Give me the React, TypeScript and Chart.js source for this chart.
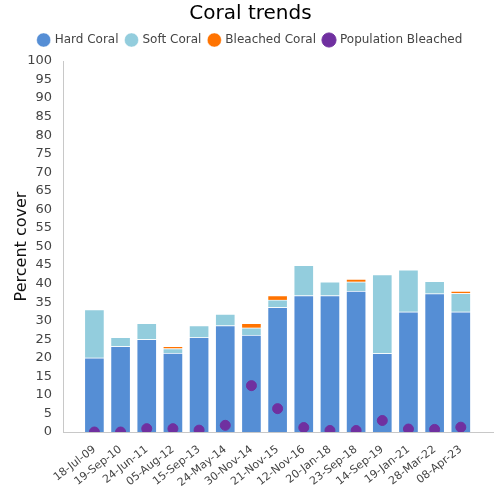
import React, { useEffect, useRef } from "react";
import { Chart, registerables } from "chart.js";

Chart.register(...registerables);

const categories = [
  "18-Jul-09", "19-Sep-10", "24-Jun-11", "05-Aug-12", "15-Sep-13", "24-May-14", "30-Nov-14",
  "21-Nov-15", "12-Nov-16", "20-Jan-18", "23-Sep-18", "14-Sep-19", "19-Jan-21", "28-Mar-22", "08-Apr-23",
];
const hardCoral = [20, 23.1, 25, 21.3, 25.5, 28.7, 26.1, 33.6, 36.8, 36.8, 38, 21.2, 32.4, 37.3, 32.4];
const softCoral = [13, 2.4, 4.3, 1.2, 3.2, 3.1, 2, 2, 8.1, 3.7, 2.5, 21.2, 11.3, 3.3, 5];
const bleachedCoral = [0, 0, 0, 0.6, 0, 0, 1.2, 1.2, 0, 0, 0.7, 0, 0, 0, 0.6];
const populationBleached = [0, 0, 0.9, 0.9, 0.5, 1.8, 12.5, 6.3, 1.2, 0.4, 0.4, 3.1, 0.8, 0.7, 1.3];

const FONT = "'DejaVu Sans', sans-serif";

const legendSpacer = {
  id: "legendSpacer",
  beforeLayout(chart: any) {
    const lg = chart.legend;
    if (lg && !lg.__patched) {
      const orig = lg.fit;
      lg.fit = function (this: any) {
        orig.call(this);
        this.height += 5;
      };
      lg.__patched = true;
    }
  },
};

export default function App() {
  const ref = useRef<HTMLCanvasElement | null>(null);

  useEffect(() => {
    if (!ref.current) return;
    const toXY = (arr: number[]) => arr.map((v, i) => ({ x: i, y: v }));
    const barCommon = {
      type: "bar" as const,
      barThickness: 20,
      borderWidth: 1,
      borderColor: "rgba(255,255,255,0.45)",
      stack: "coral",
      order: 1,
    };
    const chart = new Chart(ref.current, {
      type: "bar",
      data: {
        datasets: [
          { ...barCommon, label: "Hard Coral", data: toXY(hardCoral), backgroundColor: "#558ed5" },
          { ...barCommon, label: "Soft Coral", data: toXY(softCoral), backgroundColor: "#93cddd" },
          { ...barCommon, label: "Bleached Coral", data: toXY(bleachedCoral), backgroundColor: "#ff7300" },
          {
            type: "scatter" as any,
            label: "Population Bleached",
            data: toXY(populationBleached),
            backgroundColor: "#7030a0",
            borderColor: "#7030a0",
            pointRadius: 5,
            pointHoverRadius: 5,
            stack: "pop",
            order: 0,
          } as any,
        ],
      },
      plugins: [legendSpacer],
      options: {
        responsive: false,
        animation: false,
        layout: { padding: { left: 8, right: 7, top: 0, bottom: 0 } },
        plugins: {
          title: {
            display: true,
            text: "Coral trends",
            color: "#000",
            font: { family: FONT, size: 20, weight: "normal" },
            padding: { top: 2, bottom: 0 },
          },
          legend: {
            labels: {
              usePointStyle: true,
              pointStyle: "circle",
              boxWidth: 10,
              boxHeight: 10,
              padding: 8,
              color: "#444",
              font: { family: FONT, size: 12 },
              sort: (a: any, b: any) => a.datasetIndex - b.datasetIndex,
            },
          },
          tooltip: { enabled: false },
        },
        scales: {
          x: {
            type: "linear",
            min: -1.2,
            max: 15.23,
            offset: false,
            grid: { display: false },
            border: { display: true, color: "#c8c8c8" },
            ticks: {
              stepSize: 1,
              includeBounds: false,
              autoSkip: false,
              minRotation: 38,
              maxRotation: 38,
              color: "#444",
              font: { family: FONT, size: 11 },
              callback: (v: any) => categories[v as number] ?? "",
            },
            afterFit: (s: any) => {
              s.height = 68;
            },
          },
          y: {
            stacked: true,
            min: 0,
            max: 100,
            grid: { display: false },
            border: { display: true, color: "#c8c8c8" },
            ticks: {
              stepSize: 5,
              autoSkip: false,
              color: "#444",
              font: { family: FONT, size: 13 },
            },
            title: {
              display: true,
              text: "Percent cover",
              color: "#111",
              font: { family: FONT, size: 16 },
            },
            afterFit: (s: any) => {
              s.width = 55;
            },
          },
        },
      },
    });
    return () => chart.destroy();
  }, []);

  return (
    <div style={{ position: "fixed", left: 0, top: 0, width: 500, height: 500, background: "#fff" }}>
      <canvas ref={ref} width={500} height={500} />
    </div>
  );
}
